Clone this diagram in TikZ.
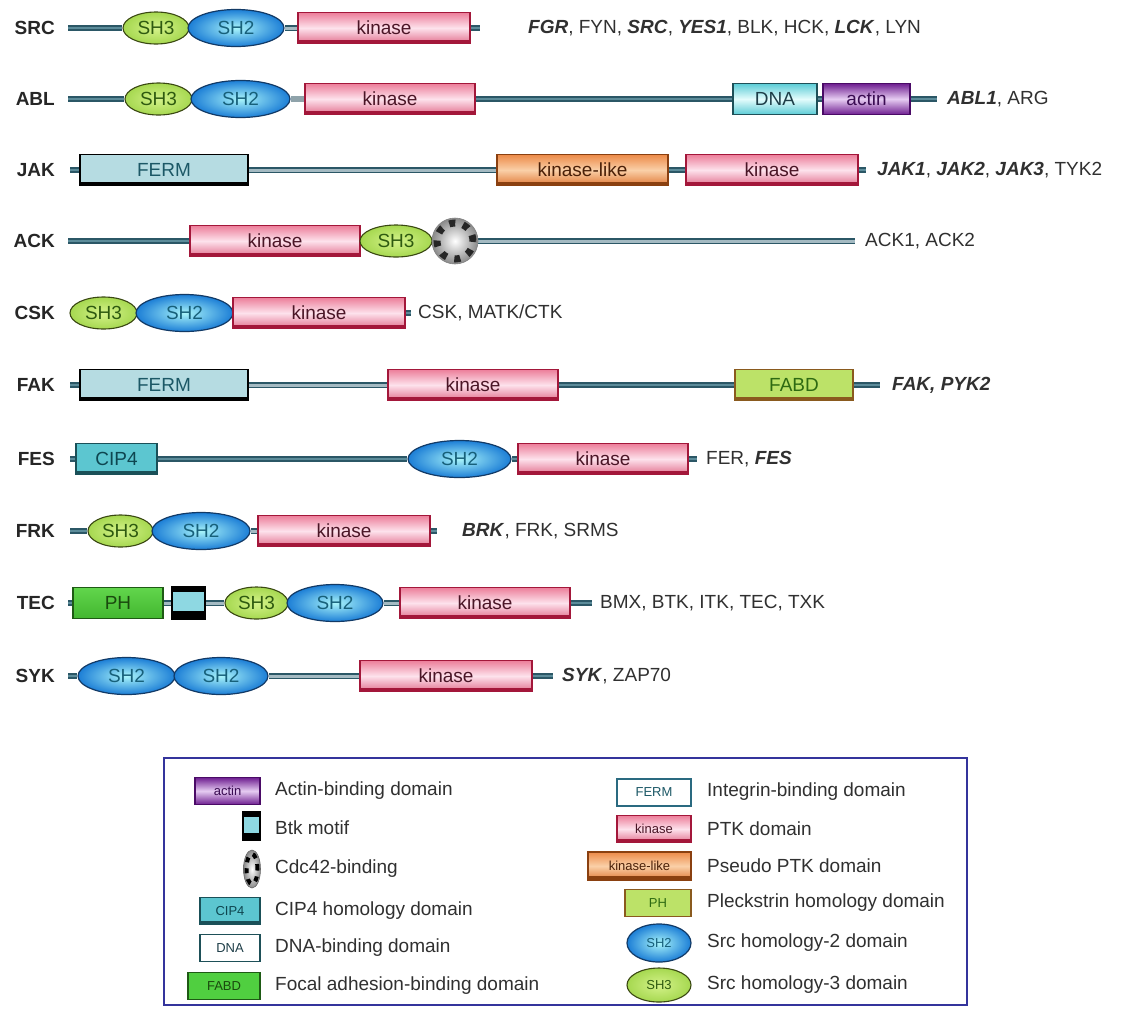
\documentclass[tikz,border=0pt]{standalone}
\usepackage{fontspec}
\setmainfont{Liberation Sans}
\usetikzlibrary{shapes.geometric,backgrounds}
\definecolor{bbdark}{HTML}{2B5766}
\definecolor{bbmid}{HTML}{5C8C9A}
\definecolor{bblight}{HTML}{A4BAC2}
\definecolor{bbgrayc}{HTML}{8FA3AA}
\definecolor{kinborder}{HTML}{A3173A}
\definecolor{kintop}{HTML}{EC7E9A}
\definecolor{kinmid}{HTML}{FDE2EC}
\definecolor{kinbot}{HTML}{E2708E}
\definecolor{kintext}{HTML}{4A1526}
\definecolor{klborder}{HTML}{8A4010}
\definecolor{kltop}{HTML}{EC8A48}
\definecolor{klmid}{HTML}{FAD0A8}
\definecolor{klbot}{HTML}{E07A38}
\definecolor{kltext}{HTML}{4A2008}
\definecolor{sh2border}{HTML}{123A66}
\definecolor{sh2in}{HTML}{A8F4FA}
\definecolor{sh2out}{HTML}{1C7ED6}
\definecolor{sh2text}{HTML}{17607A}
\definecolor{sh3border}{HTML}{3A4812}
\definecolor{sh3in}{HTML}{D4F28A}
\definecolor{sh3out}{HTML}{A6D850}
\definecolor{sh3text}{HTML}{2E5A10}
\definecolor{fermfill}{HTML}{B6DCE2}
\definecolor{fermtext}{HTML}{1C5866}
\definecolor{dnaborder}{HTML}{1E5058}
\definecolor{dnaedge}{HTML}{5CCCD6}
\definecolor{dnamid}{HTML}{E4FCFC}
\definecolor{dnatext}{HTML}{1E3E48}
\definecolor{actborder}{HTML}{4A0A66}
\definecolor{actedge}{HTML}{6E1E90}
\definecolor{actmid}{HTML}{E6CCF2}
\definecolor{acttext}{HTML}{3A0C52}
\definecolor{fabdfill}{HTML}{BCE268}
\definecolor{fabdbrown}{HTML}{8A5A1E}
\definecolor{fabdtext}{HTML}{2E6A12}
\definecolor{phtop}{HTML}{62D64C}
\definecolor{phbot}{HTML}{42B630}
\definecolor{phborder}{HTML}{1E5A14}
\definecolor{phtext}{HTML}{1A4A0E}
\definecolor{lgreen}{HTML}{50CF40}
\definecolor{cipfill}{HTML}{5CC6D0}
\definecolor{cipborder}{HTML}{1A5058}
\definecolor{ciptext}{HTML}{0E4650}
\definecolor{btkfill}{HTML}{8ED8E2}
\definecolor{cdcgray}{HTML}{8A8A8A}
\definecolor{legborder}{HTML}{34349C}
\definecolor{labtext}{HTML}{262626}
\definecolor{famtext}{HTML}{303030}
\definecolor{fermleg}{HTML}{2A6A80}
\newcommand\domfnt{\fontsize{19}{20}\selectfont}
\newcommand\labfnt{\fontsize{19}{20}\selectfont\bfseries}
\newcommand\icofnt{\fontsize{13}{14}\selectfont}
\newcommand\bfit[1]{\textbf{\textit{#1}}}
\newcommand\dom[6]{\node[#1, minimum width={(#4)-(#3)}] (#2) at ({((#3)+(#4))/2},#5) {#6};}
\tikzset{
 dombox/.style={rectangle, inner sep=0pt, minimum height=31pt, font=\domfnt},
 lowband/.style={path picture={\fill[#1] ([yshift=-1pt]path picture bounding box.south west) rectangle ([yshift=4pt]path picture bounding box.south east);}},
 kin/.style={dombox, draw=kinborder, line width=1.2pt, top color=kintop, bottom color=kinbot, middle color=kinmid, text=kintext, lowband=kinborder},
 klike/.style={dombox, draw=klborder, line width=1.2pt, top color=kltop, bottom color=klbot, middle color=klmid, text=kltext, lowband=klborder},
 sh2/.style={ellipse, inner sep=0pt, minimum height=37pt, font=\domfnt, draw=sh2border, line width=1.2pt, inner color=sh2in, outer color=sh2out, text=sh2text},
 sh3/.style={ellipse, inner sep=0pt, minimum height=32pt, font=\domfnt, draw=sh3border, line width=1.1pt, inner color=sh3in, outer color=sh3out, text=sh3text},
 ferm/.style={dombox, fill=fermfill, draw=black, line width=1.4pt, text=fermtext, lowband=black},
 dna/.style={dombox, draw=dnaborder, line width=1.2pt, top color=dnaedge, bottom color=dnaedge, middle color=dnamid, text=dnatext},
 actin/.style={dombox, draw=actborder, line width=1.2pt, top color=actedge, bottom color=actedge, middle color=actmid, text=acttext},
 fabd/.style={dombox, fill=fabdfill, draw=fabdbrown, line width=1.2pt, text=fabdtext, lowband=fabdbrown},
 ph/.style={dombox, top color=phtop, bottom color=phbot, draw=phborder, line width=1.2pt, text=phtext},
 cip/.style={dombox, fill=cipfill, draw=cipborder, line width=1.3pt, text=ciptext, lowband=cipborder},
 btk/.style={rectangle, inner sep=0pt, minimum height=32pt, fill=btkfill, draw=black, line width=1.5pt,
   path picture={\fill[black] (path picture bounding box.south west) rectangle ([yshift=8pt]path picture bounding box.south east);
                 \fill[black] (path picture bounding box.north west) rectangle ([yshift=-5pt]path picture bounding box.north east);}},
 cdc/.style={circle, inner sep=0pt, minimum size=46pt, inner color=white, outer color=cdcgray, draw=black!50, line width=0.6pt,
   path picture={\draw[black!85, line width=7pt, dash pattern=on 6pt off 8pt] (path picture bounding box.center) circle (18pt);}},
 cdcv/.style={ellipse, inner sep=0pt, minimum width=17pt, minimum height=38pt, inner color=white, outer color=cdcgray, draw=black!60, line width=0.6pt,
   path picture={\draw[black, line width=4pt, dash pattern=on 5pt off 6pt] (path picture bounding box.center) ellipse [x radius=5.5pt, y radius=15pt];}},
 rowlab/.style={anchor=east, font=\labfnt, text=labtext, inner sep=0pt},
 fam/.style={anchor=west, font=\domfnt, text=famtext, inner sep=0pt},
 leg/.style={anchor=west, font=\domfnt, text=famtext, inner sep=0pt},
 bbs/.style={draw=bbdark, line width=2.2pt, double=bbmid, double distance=2pt},
 bbd/.style={draw=bbdark, line width=1.6pt, double=bblight, double distance=3pt},
 bbg/.style={draw=bbgrayc, line width=6pt},
}
\begin{document}
\begin{tikzpicture}[x=1pt,y=-1pt]
\useasboundingbox (0,0) rectangle (1126,1010);
% SRC
\node[rowlab] (lSRC) at (55,28) {SRC};
\coordinate (sSRC) at (68,28);
\dom{sh3}{srcA}{123}{189}{28}{SH3}
\dom{sh2}{srcB}{188}{284}{28}{SH2}
\dom{kin}{srcK}{298}{470}{28}{kinase}
\coordinate (eSRC) at (480,28);
\node[fam] (fSRC) at (528,28) {\bfit{FGR}, FYN, \bfit{SRC}, \bfit{YES1}, BLK, HCK, \bfit{LCK}, LYN};
% ABL
\node[rowlab] (lABL) at (55,99) {ABL};
\coordinate (sABL) at (68,99);
\dom{sh3}{ablA}{125}{192}{99}{SH3}
\dom{sh2}{ablB}{191}{290}{99}{SH2}
\dom{kin}{ablK}{305}{475}{99}{kinase}
\dom{dna}{ablD}{733}{817}{99}{DNA}
\dom{actin}{ablT}{823}{910}{99}{actin}
\coordinate (eABL) at (937,99);
\node[fam] (fABL) at (947,99) {\bfit{ABL1}, ARG};
% JAK
\node[rowlab] (lJAK) at (55,170) {JAK};
\coordinate (sJAK) at (70,170);
\dom{ferm}{jakF}{80}{248}{170}{FERM}
\dom{klike}{jakL}{497}{668}{170}{kinase-like}
\dom{kin}{jakK}{686}{858}{170}{kinase}
\coordinate (eJAK) at (866,170);
\node[fam] (fJAK) at (877,170) {\bfit{JAK1}, \bfit{JAK2}, \bfit{JAK3}, TYK2};
% ACK
\node[rowlab] (lACK) at (55,241) {ACK};
\coordinate (sACK) at (68,241);
\dom{kin}{ackK}{190}{360}{241}{kinase}
\dom{sh3}{ackA}{360}{432}{241}{SH3}
\node[cdc] (ackC) at (455,241) {};
\coordinate (eACK) at (855,241);
\node[fam] (fACK) at (865,241) {ACK1, ACK2};
% CSK
\node[rowlab] (lCSK) at (55,313) {CSK};
\dom{sh3}{cskA}{70}{137}{313}{SH3}
\dom{sh2}{cskB}{136}{233}{313}{SH2}
\dom{kin}{cskK}{233}{405}{313}{kinase}
\coordinate (eCSK) at (411,313);
\node[fam] (fCSK) at (418,313) {CSK, MATK/CTK};
% FAK
\node[rowlab] (lFAK) at (55,385) {FAK};
\coordinate (sFAK) at (70,385);
\dom{ferm}{fakF}{80}{248}{385}{FERM}
\dom{kin}{fakK}{388}{558}{385}{kinase}
\dom{fabd}{fakD}{735}{853}{385}{FABD}
\coordinate (eFAK) at (880,385);
\node[fam] (fFAK) at (892,385) {\bfit{FAK, PYK2}};
% FES
\node[rowlab] (lFES) at (55,459) {FES};
\coordinate (sFES) at (70,459);
\dom{cip}{fesC}{76}{157}{459}{CIP4}
\dom{sh2}{fesB}{408}{511}{459}{SH2}
\dom{kin}{fesK}{518}{688}{459}{kinase}
\coordinate (eFES) at (697,459);
\node[fam] (fFES) at (706,459) {FER, \bfit{FES}};
% FRK
\node[rowlab] (lFRK) at (55,531) {FRK};
\coordinate (sFRK) at (70,531);
\dom{sh3}{frkA}{88}{153}{531}{SH3}
\dom{sh2}{frkB}{152}{250}{531}{SH2}
\dom{kin}{frkK}{258}{430}{531}{kinase}
\coordinate (eFRK) at (437,531);
\node[fam] (fFRK) at (462,531) {\bfit{BRK}, FRK, SRMS};
% TEC
\node[rowlab] (lTEC) at (55,603) {TEC};
\coordinate (sTEC) at (68,603);
\dom{ph}{tecP}{73}{163}{603}{PH}
\node[btk, minimum width=33pt] (tecT) at (188.5,603) {};
\dom{sh3}{tecA}{225}{288}{603}{SH3}
\dom{sh2}{tecB}{287}{383}{603}{SH2}
\dom{kin}{tecK}{400}{570}{603}{kinase}
\coordinate (eTEC) at (592,603);
\node[fam] (fTEC) at (600,603) {BMX, BTK, ITK, TEC, TXK};
% SYK
\node[rowlab] (lSYK) at (55,676) {SYK};
\coordinate (sSYK) at (68,676);
\dom{sh2}{sykB}{78}{175}{676}{SH2}
\dom{sh2}{sykC}{174}{268}{676}{SH2}
\dom{kin}{sykK}{360}{532}{676}{kinase}
\coordinate (eSYK) at (553,676);
\node[fam] (fSYK) at (562,676) {\bfit{SYK}, ZAP70};
% backbones
\begin{scope}[on background layer]
\fill[white] (0,0) rectangle (1126,1010);
\draw[bbs] (sSRC) -- (srcA.west);
\draw[bbd] (srcB.east) -- (srcK.west);
\draw[bbs] (srcK.east) -- (eSRC);
\draw[bbs] (sABL) -- (ablA.west);
\draw[bbg] (ablB.east) -- (ablK.west);
\draw[bbs] (ablK.east) -- (ablD.west);
\draw[bbs] (ablD.east) -- (ablT.west);
\draw[bbs] (ablT.east) -- (eABL);
\draw[bbs] (sJAK) -- (jakF.west);
\draw[bbd] (jakF.east) -- (jakL.west);
\draw[bbs] (jakL.east) -- (jakK.west);
\draw[bbs] (jakK.east) -- (eJAK);
\draw[bbs] (sACK) -- (ackK.west);
\draw[bbd] (ackC.east) -- (eACK);
\draw[bbs] (cskK.east) -- (eCSK);
\draw[bbs] (sFAK) -- (fakF.west);
\draw[bbd] (fakF.east) -- (fakK.west);
\draw[bbs] (fakK.east) -- (fakD.west);
\draw[bbs] (fakD.east) -- (eFAK);
\draw[bbs] (sFES) -- (fesC.west);
\draw[bbs] (fesC.east) -- (fesB.west);
\draw[bbs] (fesB.east) -- (fesK.west);
\draw[bbs] (fesK.east) -- (eFES);
\draw[bbs] (sFRK) -- (frkA.west);
\draw[bbd] (frkB.east) -- (frkK.west);
\draw[bbs] (frkK.east) -- (eFRK);
\draw[bbs] (sTEC) -- (tecP.west);
\draw[bbd] (tecP.east) -- (tecT.west);
\draw[bbd] (tecT.east) -- (tecA.west);
\draw[bbd] (tecB.east) -- (tecK.west);
\draw[bbs] (tecK.east) -- (eTEC);
\draw[bbs] (sSYK) -- (sykB.west);
\draw[bbd] (sykC.east) -- (sykK.west);
\draw[bbs] (sykK.east) -- (eSYK);
\end{scope}
% legend
\node[draw=legborder, line width=1.6pt, fill=white, minimum width=803pt, minimum height=247pt, inner sep=0pt] (legend) at (565.5,881.5) {};
\dom{actin,font=\icofnt,minimum height=27pt}{gAct}{195}{260}{791}{actin}
\node[leg] (tAct) at (275,791) {Actin-binding domain};
\node[btk, minimum width=17pt, minimum height=29pt] (gBtk) at (251.5,826) {};
\node[leg] (tBtk) at (275,828) {Btk motif};
\node[cdcv] (gCdc) at (252,869) {};
\node[leg] (tCdc) at (275,869) {Cdc42-binding};
\dom{cip,font=\icofnt,minimum height=27pt}{gCip}{200}{260}{911}{CIP4}
\node[leg] (tCip) at (275,911) {CIP4 homology domain};
\dom{dna,font=\icofnt,minimum height=27pt,top color=white,bottom color=white,middle color=white}{gDna}{200}{260}{948}{DNA}
\node[leg] (tDna) at (275,948) {DNA-binding domain};
\dom{dombox,font=\icofnt,minimum height=27pt,fill=lgreen,draw=phborder,line width=1.3pt,text=phtext}{gFabd}{188}{260}{986}{FABD}
\node[leg] (tFabd) at (275,986) {Focal adhesion-binding domain};
\dom{dombox,font=\icofnt,minimum height=27pt,fill=white,draw=fermleg,line width=2pt,text=fermtext}{gFerm}{617}{691}{792}{FERM}
\node[leg] (tFerm) at (707,792) {Integrin-binding domain};
\dom{kin,font=\icofnt,minimum height=27pt}{gKin}{617}{691}{829}{kinase}
\node[leg] (tKin) at (707,829) {PTK domain};
\dom{klike,font=\icofnt,minimum height=28pt}{gKl}{588}{691}{866}{kinase-like}
\node[leg] (tKl) at (707,866) {Pseudo PTK domain};
\dom{fabd,font=\icofnt,minimum height=27pt,lowband=fabdfill,draw=fabdbrown,line width=1.6pt}{gPh}{625}{691}{903}{PH}
\node[leg] (tPh) at (707,903) {Pleckstrin homology domain};
\dom{sh2,font=\icofnt,minimum height=38pt}{gSh2}{627}{691}{943}{SH2}
\node[leg] (tSh2) at (707,943) {Src homology-2 domain};
\dom{sh3,font=\icofnt,minimum height=34pt}{gSh3}{627}{691}{985}{SH3}
\node[leg] (tSh3) at (707,985) {Src homology-3 domain};
\end{tikzpicture}
\end{document}
